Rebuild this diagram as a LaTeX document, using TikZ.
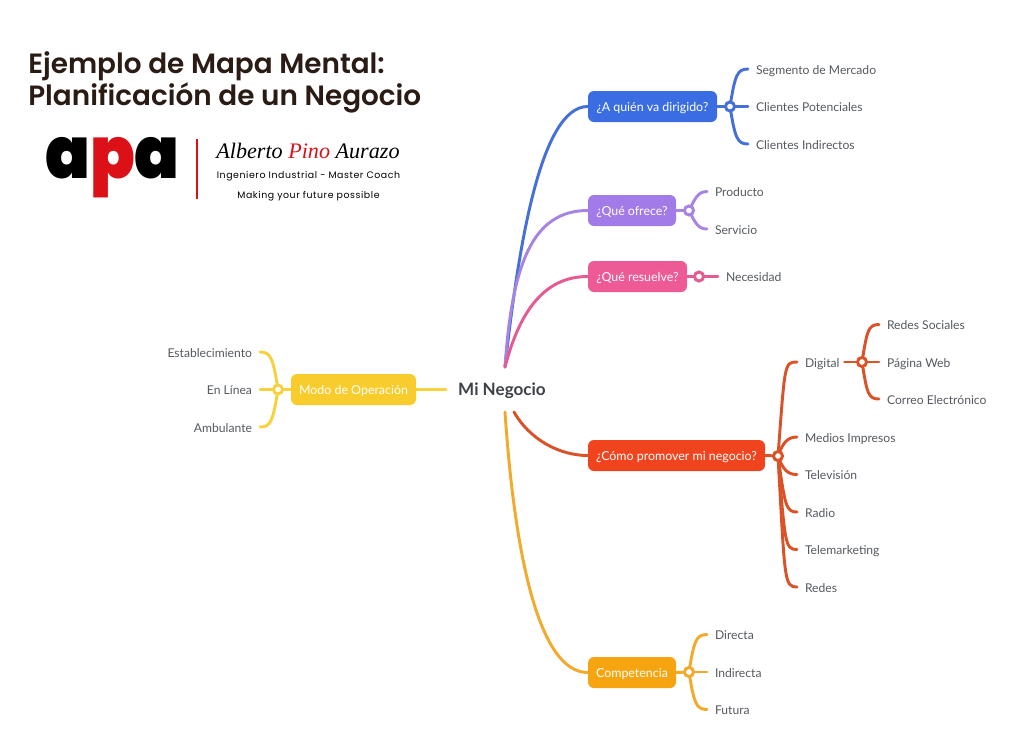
\documentclass[tikz,border=0pt]{standalone}
\usepackage{fontspec}
\setmainfont{Lato}
\newfontfamily\titlefont{Poppins}[UprightFont=*-SemiBold,BoldFont=*-SemiBold]
\newfontfamily\logofont{Poppins}[UprightFont=*-Black]
\newfontfamily\tagfont{Poppins}[LetterSpace=6]
\newfontfamily\signfont{Liberation Serif}[ItalicFont=* Italic]
\usetikzlibrary{backgrounds}
\definecolor{ink}{HTML}{555A60}
\definecolor{rootink}{HTML}{3E4248}
\definecolor{titleink}{HTML}{2A1B14}
\definecolor{cblue}{HTML}{3A6DE2}\definecolor{lblue}{HTML}{4470D8}
\definecolor{cpurple}{HTML}{A27BE8}\definecolor{lpurple}{HTML}{A884E2}
\definecolor{cpink}{HTML}{EE5A96}\definecolor{lpink}{HTML}{E65A92}
\definecolor{cred}{HTML}{F0441E}\definecolor{lred}{HTML}{DA5228}
\definecolor{corange}{HTML}{F6A511}\definecolor{lorange}{HTML}{F2A92C}
\definecolor{cyellow}{HTML}{F8CC2C}\definecolor{lyellow}{HTML}{F8D23E}
\definecolor{logored}{HTML}{DC1118}
\tikzset{
  box/.style={fill=#1,rounded corners=4.5pt,minimum height=23.25pt,inner sep=0pt,text=white,font=\fontsize{9.3pt}{11pt}\selectfont,text height=10pt,text depth=2pt},
  leaf/.style={inner sep=0pt,outer xsep=6pt,text=ink,font=\fontsize{9.1pt}{11pt}\selectfont,text height=10pt,text depth=2pt},
  hub/.style={circle,draw=#1,fill=white,line width=2.2pt,minimum size=6.8pt,inner sep=0pt},
  link/.style={draw=#1,line width=2.2pt,line cap=round},
  trunk/.style={draw=#1,line width=2.2pt,line cap=round},
  titletext/.style={anchor=base west,inner sep=0pt,text=titleink,font=\titlefont\fontsize{20.9pt}{24pt}\selectfont},
  tagtext/.style={anchor=center,inner sep=0pt,font=\tagfont\fontsize{7.05pt}{9pt}\selectfont}
}
\newcommand{\branch}[6]{\draw[link=#1] (#2.center) .. controls +(#4,#5) and +(-#6,0) .. (#3.west);}
\begin{document}
\begin{tikzpicture}[x=0.75pt,y=-0.75pt]
\useasboundingbox (0,0) rectangle (1024,747);
\begin{pgfonlayer}{background}
\fill[white] (0,0) rectangle (1024,747);
\end{pgfonlayer}
% title
\node[titletext] (title1) at (28,73) {Ejemplo de Mapa Mental:};
\node[titletext] (title2) at (28,105) {Planificación de un Negocio};
% logo
\node[anchor=base west,inner sep=0pt,font=\logofont\fontsize{54pt}{54pt}\selectfont] (logo) at (45,178) {\scalebox{0.915}[1]{a\textcolor{logored}{p}a}};
\draw[logored,line width=1pt] (197,139) -- (197,199);
\node[anchor=center,inner sep=0pt,font=\signfont\itshape\fontsize{16.6pt}{18pt}\selectfont] (sign) at (308,151) {Alberto \textcolor{logored}{Pino} Aurazo};
\node[tagtext] (tag1) at (308.5,176) {Ingeniero Industrial - Master Coach};
\node[tagtext] (tag2) at (308.5,196.5) {Making your future possible};
% centre
\node[inner sep=0pt,text=rootink,font=\bfseries\fontsize{12.8pt}{14pt}\selectfont] (root) at (502,391) {Mi Negocio};
\coordinate (rootup) at (505,367);
\coordinate (rootred) at (514,412);
\coordinate (rootor) at (505,412);
\coordinate (rootw) at (446,389.5);
% boxes
\node[box=cblue,minimum width=96.75pt] (b1) at (652.5,106.5) {¿A quién va dirigido?};
\node[box=cpurple,minimum width=66pt] (b2) at (632,210.5) {¿Qué ofrece?};
\node[box=cpink,minimum width=74.25pt] (b3) at (637.5,276.5) {¿Qué resuelve?};
\node[box=cred,minimum width=132.75pt] (b4) at (676.5,455.5) {¿Cómo promover mi negocio?};
\node[box=corange,minimum width=66pt] (b5) at (632,672.5) {Competencia};
\node[box=cyellow,minimum width=93.75pt] (b6) at (353.5,389.5) {Modo de Operación};
% hubs
\node[hub=lblue] (h1) at (730,106.5) {};
\node[hub=lpurple] (h2) at (689,210.5) {};
\node[hub=lpink] (h3) at (699,276.5) {};
\node[hub=lred] (h4) at (778,456) {};
\node[hub=lred] (h4d) at (862,362) {};
\node[hub=lorange] (h5) at (689,672) {};
\node[hub=lyellow] (h6) at (278,389.5) {};
% leaves
\node[leaf,anchor=west] (l11) at (748,69) {Segmento de Mercado};
\node[leaf,anchor=west] (l12) at (748,106.5) {Clientes Potenciales};
\node[leaf,anchor=west] (l13) at (748,144) {Clientes Indirectos};
\node[leaf,anchor=west] (l21) at (707,191.5) {Producto};
\node[leaf,anchor=west] (l22) at (707,229) {Servicio};
\node[leaf,anchor=west] (l31) at (718,276.5) {Necesidad};
\node[leaf,anchor=west] (l41) at (797,362) {Digital};
\node[leaf,anchor=west] (l42) at (797,437) {Medios Impresos};
\node[leaf,anchor=west] (l43) at (797,474.5) {Televisión};
\node[leaf,anchor=west] (l44) at (797,512) {Radio};
\node[leaf,anchor=west] (l45) at (797,549.5) {Telemarketing};
\node[leaf,anchor=west] (l46) at (797,587) {Redes};
\node[leaf,anchor=west] (d1) at (879,324.5) {Redes Sociales};
\node[leaf,anchor=west] (d2) at (879,362) {Página Web};
\node[leaf,anchor=west] (d3) at (879,399) {Correo Electrónico};
\node[leaf,anchor=west] (l51) at (707,634.5) {Directa};
\node[leaf,anchor=west] (l52) at (707,672) {Indirecta};
\node[leaf,anchor=west] (l53) at (707,709.5) {Futura};
\node[leaf,anchor=east] (l61) at (260,352) {Establecimiento};
\node[leaf,anchor=east] (l62) at (260,389.5) {En Línea};
\node[leaf,anchor=east] (l63) at (260,427) {Ambulante};
\begin{pgfonlayer}{background}
% main curves
\draw[trunk=lblue] (rootup) .. controls (518,250) and (540,106.5) .. (b1.west);
\draw[trunk=lpurple] (rootup) .. controls (512,265) and (532,210.5) .. (b2.west);
\draw[trunk=lpink] (rootup) .. controls (520,310) and (545,276.5) .. (b3.west);
\draw[trunk=lred] (rootred) .. controls (530,440) and (560,455.5) .. (b4.west);
\draw[trunk=lorange] (rootor) .. controls (515,560) and (540,672.5) .. (b5.west);
\draw[trunk=lyellow] (b6.east) -- (rootw);
% links box to hub
\draw[link=lblue] (b1.east) -- (h1.center);
\draw[link=lpurple] (b2.east) -- (h2.center);
\draw[link=lpink] (b3.east) -- (h3.center);
\draw[link=lred] (b4.east) -- (h4.center);
\draw[link=lorange] (b5.east) -- (h5.center);
\draw[link=lyellow] (b6.west) -- (h6.center);
\draw[link=lred] (l41.east) ++(-3,0) -- (h4d.center);
% branches
\branch{lblue}{h1}{l11}{5}{-31}{11}
\draw[link=lblue] (h1.center) -- (l12.west);
\branch{lblue}{h1}{l13}{5}{31}{11}
\branch{lpurple}{h2}{l21}{6}{-12}{9}
\branch{lpurple}{h2}{l22}{6}{12}{9}
\draw[link=lpink] (h3.center) -- (l31.west);
\branch{lred}{h4}{l41}{7}{-92}{13}
\branch{lred}{h4}{l42}{5}{-14}{9}
\branch{lred}{h4}{l43}{5}{14}{9}
\branch{lred}{h4}{l44}{7}{50}{11}
\branch{lred}{h4}{l45}{7}{88}{12}
\branch{lred}{h4}{l46}{7}{125}{13}
\branch{lred}{h4d}{d1}{5}{-31}{11}
\draw[link=lred] (h4d.center) -- (d2.west);
\branch{lred}{h4d}{d3}{5}{31}{11}
\branch{lorange}{h5}{l51}{5}{-31}{11}
\draw[link=lorange] (h5.center) -- (l52.west);
\branch{lorange}{h5}{l53}{5}{31}{11}
\draw[link=lyellow] (h6.center) .. controls +(-5,-31) and +(11,0) .. (l61.east);
\draw[link=lyellow] (h6.center) -- (l62.east);
\draw[link=lyellow] (h6.center) .. controls +(-5,31) and +(11,0) .. (l63.east);
\end{pgfonlayer}
\end{tikzpicture}
\end{document}
